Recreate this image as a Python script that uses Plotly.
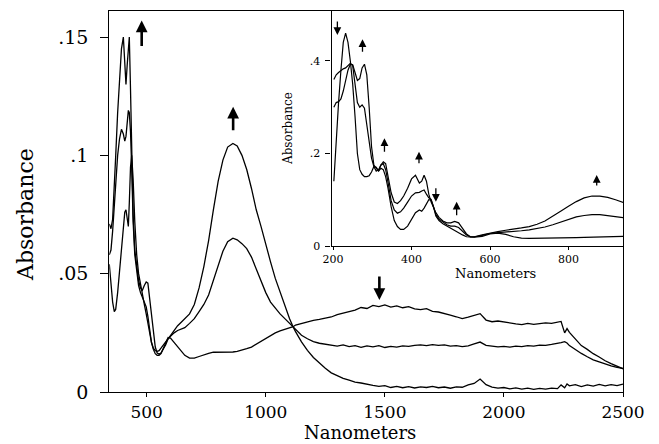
import plotly.graph_objects as go

# ---------------- main spectra (nm, absorbance) ----------------
main_wl = [343, 350, 357, 364, 370, 378, 386, 394, 402, 408, 413, 418, 423, 427, 432, 437, 443, 450,
           458, 466, 474, 482, 490, 498, 505, 512, 520, 528, 536, 544, 552, 560, 570, 580, 590, 600,
           615, 630, 645, 660, 680, 700, 720, 740, 760, 780, 800, 820, 840, 862, 880, 900, 920, 940,
           960, 980, 1000, 1020, 1040, 1060, 1080, 1100, 1115,
           1125, 1150, 1175, 1200, 1225, 1250, 1275, 1300, 1325, 1350, 1375, 1400, 1425, 1450, 1475,
           1500, 1525, 1550, 1575, 1600, 1625, 1650, 1675, 1700, 1725, 1750, 1775, 1800, 1825, 1850,
           1875, 1900, 1925, 1950, 1975, 2000, 2025, 2050, 2075, 2100, 2125, 2150, 2175, 2200, 2225,
           2240, 2255, 2265, 2275, 2300, 2325, 2350, 2375, 2400, 2425, 2450, 2475, 2500]

main_final = [0.071, 0.069, 0.073, 0.085, 0.100, 0.118, 0.133, 0.145, 0.150, 0.140, 0.130, 0.138, 0.147, 0.150, 0.128, 0.098, 0.075, 0.060,
              0.052, 0.047, 0.044, 0.043, 0.045, 0.0465, 0.046, 0.040, 0.033, 0.024, 0.019, 0.0165, 0.016, 0.0165, 0.018, 0.020, 0.0225, 0.024,
              0.026, 0.028, 0.0295, 0.031, 0.033, 0.037, 0.044, 0.053, 0.064, 0.077, 0.089, 0.098, 0.1035, 0.105, 0.104, 0.100, 0.094, 0.086,
              0.077, 0.070, 0.062, 0.055, 0.048, 0.042, 0.036, 0.031, 0.0275,
              0.0255, 0.0212, 0.0176, 0.0146, 0.0122, 0.0100, 0.0081, 0.0068, 0.0058, 0.0050, 0.0042, 0.0038, 0.0032, 0.0028, 0.0024,
              0.0027, 0.0019, 0.0024, 0.0018, 0.0023, 0.0017, 0.0022, 0.0019, 0.0024, 0.0018, 0.0021, 0.0016, 0.0022, 0.0020, 0.0030,
              0.0036, 0.0055, 0.0031, 0.0021, 0.0016, 0.0019, 0.0013, 0.0017, 0.0012, 0.0016, 0.0011, 0.0015, 0.0012, 0.0016, 0.0014,
              0.0030, 0.0018, 0.0034, 0.0026, 0.0031, 0.0023, 0.0030, 0.0025, 0.0032, 0.0026, 0.0031, 0.0027, 0.0033]

main_mid = [0.058, 0.060, 0.068, 0.080, 0.090, 0.100, 0.107, 0.111, 0.109, 0.106, 0.108, 0.115, 0.119, 0.118, 0.110, 0.095, 0.072, 0.058,
            0.050, 0.045, 0.042, 0.040, 0.038, 0.036, 0.032, 0.026, 0.021, 0.0185, 0.0175, 0.0172, 0.0175, 0.0185, 0.020, 0.0215, 0.0225, 0.0235,
            0.025, 0.026, 0.0265, 0.0272, 0.029, 0.031, 0.034, 0.037, 0.041, 0.047, 0.054, 0.0595, 0.0635, 0.065, 0.0643, 0.0627, 0.0606, 0.057,
            0.052, 0.047, 0.042, 0.038, 0.0355, 0.033, 0.031, 0.029, 0.0275,
            0.0262, 0.0240, 0.0225, 0.0213, 0.0206, 0.0203, 0.0198, 0.0194, 0.0199, 0.0192, 0.0196, 0.0189, 0.0195, 0.0191, 0.0196,
            0.0188, 0.0193, 0.0190, 0.0195, 0.0193, 0.0197, 0.0199, 0.0196, 0.0200, 0.0197, 0.0199, 0.0194, 0.0196, 0.0192, 0.0195,
            0.0203, 0.0211, 0.0197, 0.0194, 0.0191, 0.0193, 0.0190, 0.0194, 0.0192, 0.0196, 0.0194, 0.0198, 0.0197, 0.0201, 0.0204,
            0.0209, 0.0213, 0.0207, 0.0196, 0.0178, 0.0163, 0.0149, 0.0136, 0.0127, 0.0118, 0.0110, 0.0104, 0.0100]

main_initial = [0.054, 0.045, 0.038, 0.034, 0.035, 0.042, 0.052, 0.062, 0.071, 0.076, 0.077, 0.073, 0.070, 0.080, 0.095, 0.100, 0.090, 0.072,
                0.058, 0.050, 0.045, 0.041, 0.037, 0.033, 0.029, 0.025, 0.021, 0.018, 0.0162, 0.0155, 0.0155, 0.0162, 0.0185, 0.021, 0.023, 0.0228,
                0.021, 0.019, 0.017, 0.0155, 0.0143, 0.0143, 0.015, 0.0158, 0.0163, 0.0168, 0.0168, 0.0167, 0.0168, 0.0169, 0.0172, 0.0176, 0.0183, 0.019,
                0.0202, 0.0215, 0.0228, 0.0238, 0.025, 0.0258, 0.0265, 0.027, 0.0276,
                0.0283, 0.0290, 0.0296, 0.0303, 0.0307, 0.0313, 0.0317, 0.0327, 0.0332, 0.0340, 0.0346, 0.0357, 0.0353, 0.0366, 0.0361,
                0.0368, 0.0359, 0.0364, 0.0356, 0.0361, 0.0351, 0.0348, 0.0352, 0.0341, 0.0338, 0.0330, 0.0325, 0.0318, 0.0310, 0.0316,
                0.0325, 0.0331, 0.0304, 0.0297, 0.0300, 0.0295, 0.0292, 0.0288, 0.0285, 0.0290, 0.0286, 0.0289, 0.0292, 0.0290, 0.0294,
                0.0298, 0.0250, 0.0268, 0.0252, 0.0222, 0.0196, 0.0180, 0.0162, 0.0148, 0.0132, 0.0120, 0.0108, 0.0098]

main_xticks = [500, 1000, 1500, 2000, 2500]
main_xlabels = ["500", "1000", "1500", "2000", "2500"]
main_yticks = [0, 0.05, 0.1, 0.15]
main_ylabels = ["0", ".05", ".1", ".15"]

# ---------------- inset spectra (UV-vis) ----------------
inset_wl = [202, 208, 214, 220, 226, 232, 238, 244, 250, 256, 262, 268, 274, 280, 286, 292, 298, 304, 310, 316, 322, 328, 334, 340,
            348, 356, 364, 372, 380, 390, 400, 410, 420, 426, 432, 438, 444, 450, 456, 462,
            470, 480, 490, 500, 510, 520, 530, 540, 550, 560,
            580, 600, 620, 640, 660, 680, 700, 720, 740, 760, 780, 800, 820, 840, 860, 880, 900, 920, 940]

inset_final = [0.30, 0.31, 0.312, 0.318, 0.335, 0.36, 0.38, 0.393, 0.392, 0.375, 0.358, 0.362, 0.385, 0.393, 0.370, 0.300, 0.215, 0.175, 0.168, 0.162, 0.175, 0.182, 0.178, 0.150,
               0.115, 0.095, 0.092, 0.098, 0.108, 0.125, 0.145, 0.153, 0.136, 0.140, 0.153, 0.140, 0.112, 0.095, 0.082, 0.072,
               0.062, 0.054, 0.050, 0.050, 0.053, 0.050, 0.038, 0.026, 0.020, 0.020,
               0.024, 0.028, 0.031, 0.034, 0.036, 0.039, 0.042, 0.047, 0.054, 0.064, 0.075, 0.086, 0.096, 0.104, 0.108, 0.108, 0.105, 0.100, 0.094]

inset_mid = [0.36, 0.37, 0.375, 0.38, 0.383, 0.385, 0.39, 0.395, 0.39, 0.35, 0.31, 0.30, 0.305, 0.298, 0.265, 0.225, 0.19, 0.172, 0.162, 0.165, 0.175, 0.178, 0.165, 0.138,
             0.098, 0.078, 0.071, 0.074, 0.082, 0.095, 0.108, 0.115, 0.116, 0.119, 0.121, 0.112, 0.104, 0.101, 0.086, 0.068,
             0.058, 0.051, 0.046, 0.043, 0.043, 0.040, 0.032, 0.024, 0.0195, 0.0195,
             0.023, 0.027, 0.029, 0.030, 0.031, 0.033, 0.035, 0.038, 0.041, 0.046, 0.052, 0.058, 0.063, 0.066, 0.068, 0.068, 0.066, 0.064, 0.061]

inset_initial = [0.14, 0.23, 0.31, 0.38, 0.44, 0.46, 0.44, 0.40, 0.35, 0.28, 0.20, 0.165, 0.155, 0.150, 0.150, 0.152, 0.16, 0.172, 0.17, 0.162, 0.168, 0.165, 0.150, 0.125,
                 0.085, 0.055, 0.042, 0.036, 0.036, 0.043, 0.058, 0.072, 0.078, 0.075, 0.082, 0.092, 0.100, 0.099, 0.085, 0.065,
                 0.055, 0.048, 0.043, 0.038, 0.033, 0.029, 0.024, 0.020, 0.019, 0.019,
                 0.021, 0.026, 0.028, 0.025, 0.020, 0.017, 0.0165, 0.0165, 0.017, 0.017, 0.0172, 0.0175, 0.018, 0.0185, 0.019, 0.0195, 0.020, 0.020, 0.021]

inset_xticks = [200, 400, 600, 800]
inset_xlabels = ["200", "400", "600", "800"]
inset_yticks = [0, 0.2, 0.4]
inset_ylabels = ["0", ".2", ".4"]

# arrows: (wavelength, absorbance at head, direction, length px)
main_arrows = [(479, 0.157, "up", 27), (863, 0.1205, "up", 25), (1477, 0.0389, "down", 25)]
inset_arrows = [(211, 0.456, "down", 15), (275, 0.447, "up", 14), (331, 0.233, "up", 15),
                (419, 0.204, "up", 13), (462, 0.0958, "down", 15), (515, 0.0958, "up", 15),
                (872, 0.1535, "up", 12)]

for arr in (main_final, main_mid, main_initial):
    assert len(arr) == len(main_wl), (len(arr), len(main_wl))
for arr in (inset_final, inset_mid, inset_initial):
    assert len(arr) == len(inset_wl), (len(arr), len(inset_wl))

# page has an 8px body margin; lay out in page pixels and compensate
OFF = 8
W, H = 659 - OFF, 444 - OFF
SERIF = "DejaVu Serif"


def fx(p):
    return (p - OFF) / W


def fy(p):
    return 1 - (p - OFF) / H


fig = go.Figure()
for ys in (main_final, main_mid, main_initial):
    fig.add_trace(go.Scatter(x=main_wl, y=ys, mode="lines", xaxis="x", yaxis="y",
                             line=dict(color="black", width=1.3), showlegend=False, hoverinfo="skip"))
for ys in (inset_final, inset_mid, inset_initial):
    fig.add_trace(go.Scatter(x=inset_wl, y=ys, mode="lines", xaxis="x2", yaxis="y2",
                             line=dict(color="black", width=1.2), showlegend=False, hoverinfo="skip"))

axis_common = dict(showline=True, linecolor="black", mirror=True, showgrid=False, zeroline=False,
                   ticks="outside", tickcolor="black", automargin=False)

fig.update_layout(
    width=W, height=H,
    margin=dict(l=0, r=0, t=0, b=0),
    paper_bgcolor="white", plot_bgcolor="white",
    xaxis=dict(axis_common, domain=[fx(109.3), fx(623)], range=[343, 2500], anchor="y",
               tickvals=main_xticks, ticktext=main_xlabels, ticklen=4, tickwidth=1.3, linewidth=1.3,
               tickfont=dict(family=SERIF, size=17, color="black"), ticklabelstandoff=0),
    yaxis=dict(axis_common, domain=[fy(392), fy(11)], range=[0, 0.161], anchor="x",
               tickvals=main_yticks, ticktext=main_ylabels, ticklen=8, tickwidth=1.3, linewidth=1.3,
               tickfont=dict(family=SERIF, size=19, color="black"), ticklabelstandoff=8),
    xaxis2=dict(axis_common, domain=[fx(331.5), fx(623)], range=[196, 939], anchor="y2",
                tickvals=inset_xticks, ticktext=inset_xlabels, ticklen=3, tickwidth=1, linewidth=1.1,
                tickfont=dict(family=SERIF, size=11, color="black"), ticklabelstandoff=0),
    yaxis2=dict(axis_common, domain=[fy(246), fy(11)], range=[0, 0.508], anchor="x2",
                tickvals=inset_yticks, ticktext=inset_ylabels, ticklen=5, tickwidth=1, linewidth=1.1,
                tickfont=dict(family=SERIF, size=11, color="black"), ticklabelstandoff=3),
)

annotations = [
    dict(text="Absorbance", xref="paper", yref="paper", x=fx(25), y=fy(215), textangle=-90,
         showarrow=False, font=dict(family=SERIF, size=22, color="black"), xanchor="center", yanchor="middle"),
    dict(text="Nanometers", xref="paper", yref="paper", x=fx(360), y=fy(432),
         showarrow=False, font=dict(family=SERIF, size=18, color="black"), xanchor="center", yanchor="middle"),
    dict(text="Absorbance", xref="paper", yref="paper", x=fx(288), y=fy(129), textangle=-90,
         showarrow=False, font=dict(family=SERIF, size=12, color="black"), xanchor="center", yanchor="middle"),
    dict(text="Nanometers", xref="paper", yref="paper", x=fx(495), y=fy(273),
         showarrow=False, font=dict(family=SERIF, size=13, color="black"), xanchor="center", yanchor="middle"),
]
for wl, ab, d, ln in main_arrows:
    annotations.append(dict(x=wl, y=ab, xref="x", yref="y", text="", showarrow=True, ax=0,
                            ay=ln if d == "up" else -ln, arrowhead=2, arrowsize=0.9, arrowwidth=2.6,
                            arrowcolor="black"))
for wl, ab, d, ln in inset_arrows:
    annotations.append(dict(x=wl, y=ab, xref="x2", yref="y2", text="", showarrow=True, ax=0,
                            ay=ln if d == "up" else -ln, arrowhead=2, arrowsize=1.2, arrowwidth=1.3,
                            arrowcolor="black"))
fig.update_layout(annotations=annotations)

fig.write_html("out.html")
